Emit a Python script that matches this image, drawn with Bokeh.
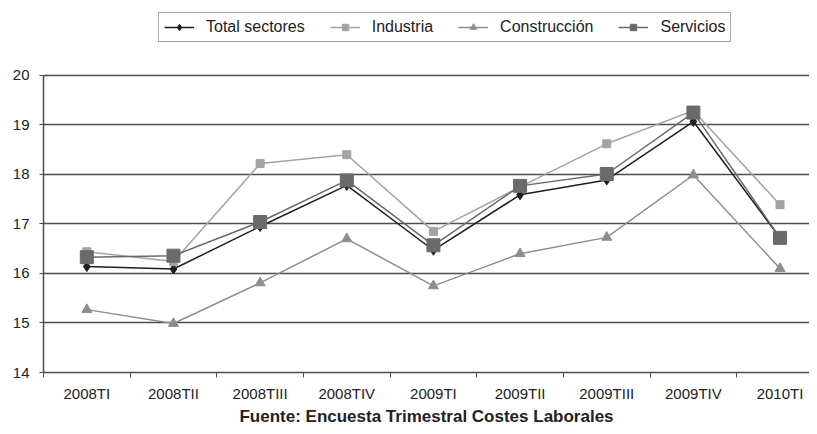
from bokeh.plotting import figure
from bokeh.models import (Range1d, FixedTicker, Legend, LegendItem, Title)
from bokeh.embed import file_html
from bokeh.resources import INLINE

categories = ["2008TI", "2008TII", "2008TIII", "2008TIV", "2009TI",
              "2009TII", "2009TIII", "2009TIV", "2010TI"]
total = [16.14, 16.09, 16.95, 17.78, 16.47, 17.59, 17.89, 19.07, 16.72]
industria = [16.44, 16.24, 18.22, 18.40, 16.85, 17.75, 18.62, 19.29, 17.39]
construccion = [15.27, 14.99, 15.81, 16.70, 15.75, 16.40, 16.73, 17.99, 16.10]
servicios = [16.33, 16.36, 17.04, 17.88, 16.57, 17.77, 18.01, 19.25, 16.72]
y_ticks = [14, 15, 16, 17, 18, 19, 20]

xs = list(range(len(categories)))
FONT = "Liberation Sans"
GRID = "#4d4d4d"

# frame spans the full height above the x axis; the y axis is bounded to 14-20
p = figure(width=809, height=426, output_backend="svg", toolbar_location=None,
           x_range=Range1d(-0.5, 8.34), y_range=Range1d(14, 21.515),
           min_border_left=43, min_border_right=0, min_border_top=0,
           min_border_bottom=54)
p.outline_line_color = None
p.background_fill_color = "white"
p.border_fill_color = "white"

# grid
p.xgrid.grid_line_color = None
p.ygrid.ticker = FixedTicker(ticks=y_ticks)
p.ygrid.grid_line_color = GRID
p.ygrid.grid_line_width = 1.5

# y axis
p.yaxis.ticker = FixedTicker(ticks=y_ticks)
p.yaxis.bounds = (14, 20)
p.yaxis.axis_line_color = GRID
p.yaxis.axis_line_width = 1.5
p.yaxis.major_tick_line_color = GRID
p.yaxis.major_tick_in = 0
p.yaxis.major_tick_out = 4
p.yaxis.minor_tick_line_color = None
p.yaxis.major_label_text_font = FONT
p.yaxis.major_label_text_font_size = "15px"
p.yaxis.major_label_text_color = "#222222"
p.yaxis.major_label_standoff = 10

# x axis
p.xaxis.ticker = FixedTicker(ticks=xs, minor_ticks=[i - 0.5 for i in range(len(categories) + 1)])
p.xaxis.major_label_overrides = {i: c for i, c in enumerate(categories)}
p.xaxis.axis_line_color = GRID
p.xaxis.axis_line_width = 1.5
p.xaxis.major_tick_line_color = None
p.xaxis.major_tick_out = 0
p.xaxis.major_tick_in = 0
p.xaxis.minor_tick_line_color = GRID
p.xaxis.minor_tick_in = 0
p.xaxis.minor_tick_out = 5
p.xaxis.major_label_text_font = FONT
p.xaxis.major_label_text_font_size = "15px"
p.xaxis.major_label_text_color = "#222222"
p.xaxis.major_label_standoff = 7

series = [
    ("Total sectores", total, "#1e1e1e", "diamond", 10),
    ("Industria", industria, "#a3a3a3", "square", 8),
    ("Construcción", construccion, "#8e8e8e", "triangle", 10),
    ("Servicios", servicios, "#6a6a6a", "square", 13),
]

items = []
for label, vals, color, marker, size in series:
    ln = p.line(xs, vals, line_color=color, line_width=1.5)
    sc = p.scatter(xs, vals, marker=marker, size=size, fill_color=color,
                   line_color=color)
    items.append(LegendItem(label=label, renderers=[ln, sc]))

legend = Legend(items=items, orientation="horizontal", location=(115, 330),
                label_text_font=FONT, label_text_font_size="16px",
                label_text_color="#222222", glyph_width=30, glyph_height=16,
                label_standoff=12, spacing=25, padding=5, margin=0,
                border_line_color=GRID, border_line_width=1.5,
                background_fill_color="white", background_fill_alpha=1.0)
p.add_layout(legend, "center")

footer = Title(text="Fuente: Encuesta Trimestral Costes Laborales", align="center",
               text_font=FONT, text_font_size="17px", text_font_style="bold",
               text_color="#222222", standoff=0)
p.add_layout(footer, "below")

open("out.html", "w").write(file_html(p, INLINE))
